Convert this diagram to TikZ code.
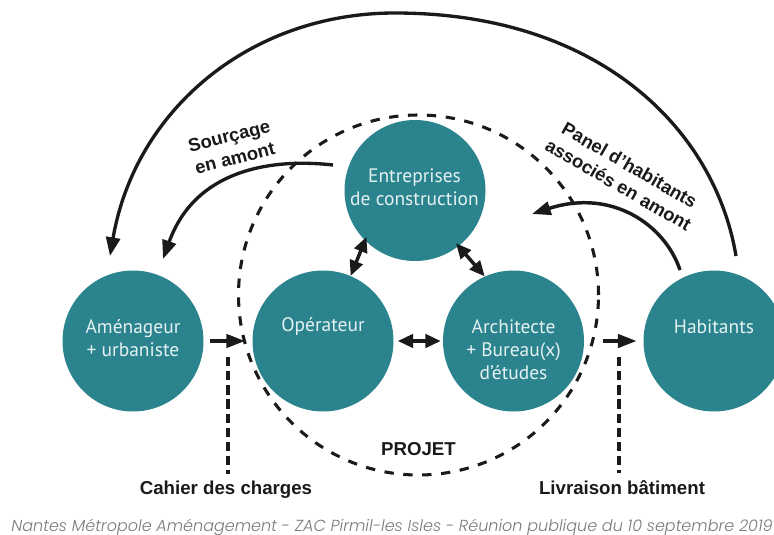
\documentclass[tikz,border=0pt]{standalone}
\usepackage{fontspec}
\setmainfont{Liberation Sans}
\newfontfamily\circfont{PT Sans}
\newfontfamily\capfont[ItalicFont={Poppins Light Italic}]{Poppins}
\usetikzlibrary{arrows.meta}
\definecolor{teal1}{HTML}{2B838D}
\definecolor{ink}{HTML}{1A1A1A}
\definecolor{soft}{HTML}{E4F1F2}
\definecolor{capgrey}{HTML}{7A7A7A}
\tikzset{
  x=0.75pt,y=-0.75pt,
  actor/.style={circle,fill=teal1,minimum size=105.75pt,inner sep=0pt},
  lbl/.style={text=soft,font=\circfont\fontsize{14.6pt}{17.25pt}\selectfont,align=center,inner sep=0pt},
  head/.style={font=\bfseries\fontsize{14pt}{16pt}\selectfont,text=ink,inner sep=0pt,align=center},
  slant/.style={font=\bfseries\fontsize{13.8pt}{17pt}\selectfont,text=ink,inner sep=0pt,align=center},
  flow/.style={draw=ink,line width=2.5pt,-{Triangle[length=14pt,width=10.5pt]}},
  flowb/.style={draw=ink,line width=2.6pt,{Triangle[length=11.5pt,width=10pt]}-{Triangle[length=11.5pt,width=10pt]}},
  flowc/.style={draw=ink,line width=2.6pt,-{Triangle[length=14pt,width=10pt]}},
  guide/.style={draw=ink,line width=2.3pt,dash pattern=on 7pt off 3.6pt},
  scopeline/.style={draw=ink,line width=2.3pt,dash pattern=on 7pt off 7.2pt}
}
\begin{document}
\begin{tikzpicture}
\clip (0,0) rectangle (774,535);
\fill[white] (0,0) rectangle (774,535);
% project ring
\node[circle,minimum size=270pt,inner sep=0pt] (ring) at (418.5,295) {};
\draw[scopeline] (ring) circle[radius=135pt];
% actors
\node[actor] (ent) at (415,190.5) {};
\node[actor] (amen) at (133,341) {};
\node[actor] (oper) at (323,341) {};
\node[actor] (arch) at (513.5,341) {};
\node[actor] (hab) at (714,341) {};
\node[lbl] (tent) at (414.5,187.5) {Entreprises\\de construction};
\node[lbl] (tamen) at (133,338.5) {Aménageur\\+ urbaniste};
\node[lbl] (toper) at (323,326.5) {Opérateur};
\node[lbl] (tarch) at (513.5,350) {Architecte\\+ Bureau(x)\\d’études};
\node[lbl] (thab) at (714,326.5) {Habitants};
% free ends
\coordinate (a1) at (245,341);
\coordinate (h0) at (603,341);
\coordinate (c0) at (228,357);
\coordinate (l0) at (619,357);
\coordinate (tipA) at (110,256);
\coordinate (tipB) at (163,259);
\coordinate (tipC) at (532,214);
\coordinate (startB) at (333,165);
\coordinate (startC) at (680,270);
\coordinate (startA) at (736,256);
% labels
\node[head,anchor=base] (cahier) at (226,494) {Cahier des charges};
\node[head,anchor=base] (livr) at (622,494) {Livraison bâtiment};
\node[head,anchor=base] (proj) at (418.5,455) {PROJET};
\node[slant,rotate=14.5] (sour) at (232,147) {Sourçage\\en amont};
\node[slant,rotate=-30] (panel) at (624,175) {Panel d’habitants\\associés en amont};
\node[font=\capfont\itshape\fontsize{12pt}{14pt}\selectfont,text=capgrey,inner sep=0pt,anchor=east] (cap) at (773,527) {Nantes Métropole Aménagement - ZAC Pirmil-les Isles - Réunion publique du 10 septembre 2019};
% connectors
\draw[flow] (startA) .. controls (715,130) and (600,13) .. (395,13) .. controls (250,13) and (135,110) .. (tipA);
\draw[flow] (startB) .. controls (270,158) and (195,170) .. (tipB);
\draw[flowc] (startC) .. controls (665,225) and (612,188) .. (tipC);
\draw[flowb,shorten <=3pt,shorten >=1.5pt] (oper.east) -- (arch.west);
\draw[flowb,shorten <=-3pt] (ent.225) -- (oper.67);
\draw[flowb,shorten <=-3pt] (ent.-52) -- (arch.114);
\draw[flowc,shorten <=4.5pt] (amen.east) -- (a1);
\draw[flowc,shorten >=5pt] (h0) -- (hab.west);
\draw[guide,shorten >=5pt] (c0) -- (cahier.north -| c0);
\draw[guide,shorten >=5pt] (l0) -- (livr.north -| l0);
\end{tikzpicture}
\end{document}
